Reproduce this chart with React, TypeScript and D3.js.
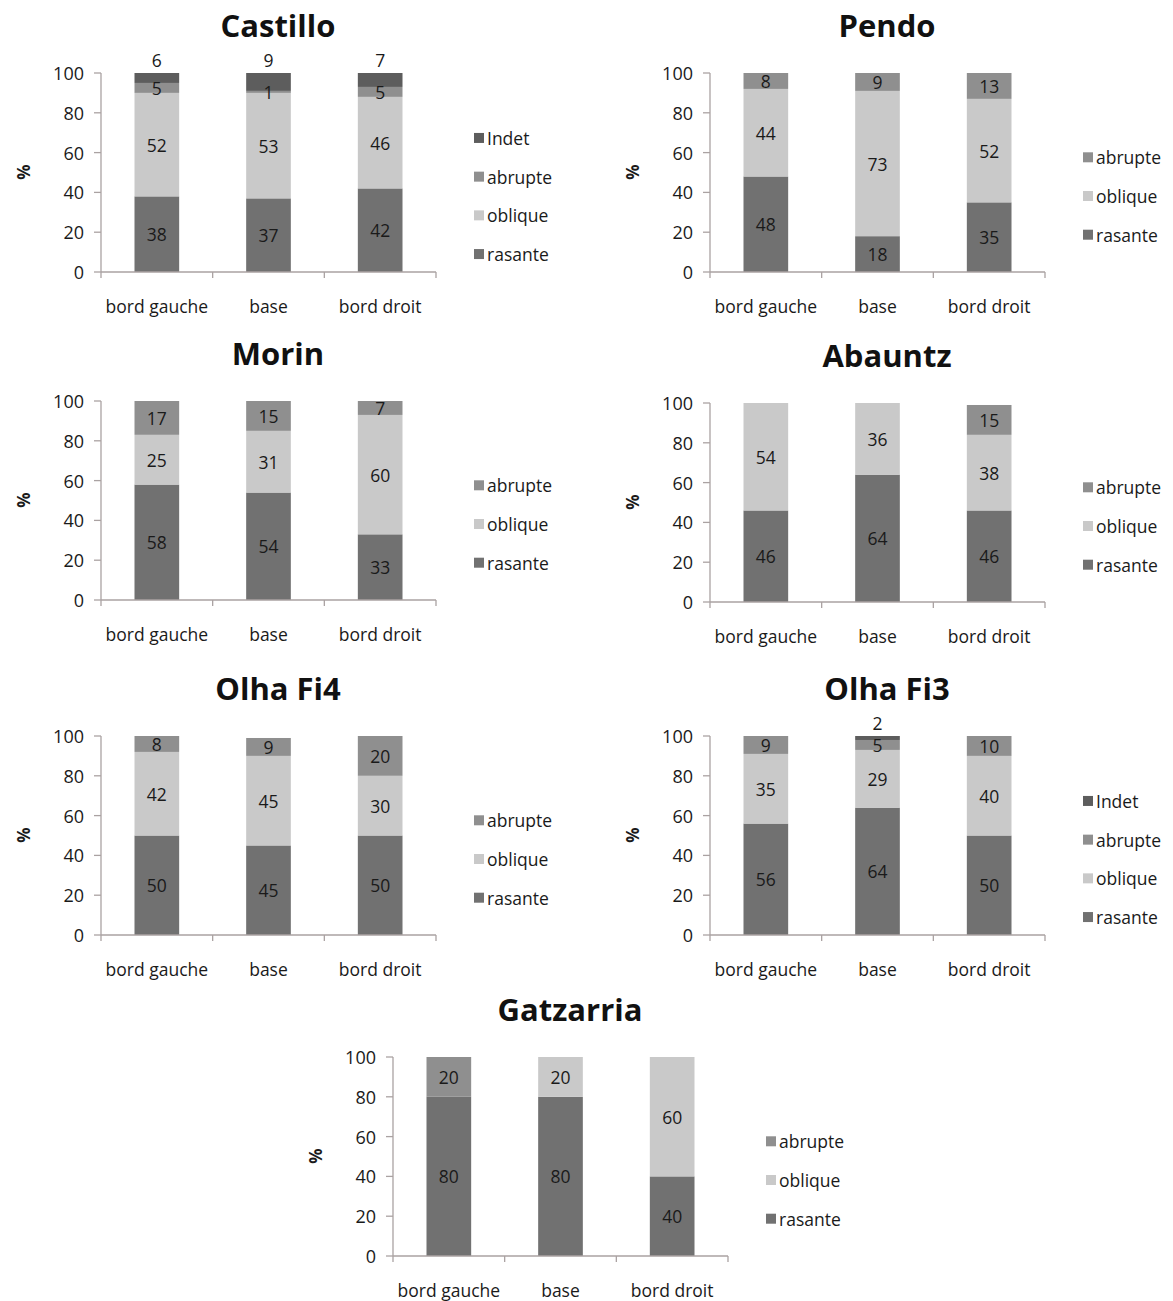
import React from "react";
import * as d3 from "d3";

const categories = ["bord gauche", "base", "bord droit"];
const seriesNames = ["rasante", "oblique", "abrupte", "Indet"];
const seriesColors = ["#717171", "#c9c9c9", "#8f8f8f", "#5d5d5d"];
const yTicks = [0, 20, 40, 60, 80, 100];

// values per category: [rasante, oblique, abrupte, Indet]
const castillo = [[38, 52, 5, 6], [37, 53, 1, 9], [42, 46, 5, 7]];
const pendo = [[48, 44, 8, 0], [18, 73, 9, 0], [35, 52, 13, 0]];
const morin = [[58, 25, 17, 0], [54, 31, 15, 0], [33, 60, 7, 0]];
const abauntz = [[46, 54, 0, 0], [64, 36, 0, 0], [46, 38, 15, 0]];
const olhaFi4 = [[50, 42, 8, 0], [45, 45, 9, 0], [50, 30, 20, 0]];
const olhaFi3 = [[56, 35, 9, 0], [64, 29, 5, 2], [50, 40, 10, 0]];
const gatzarria = [[80, 0, 20, 0], [80, 20, 0, 0], [40, 60, 0, 0]];

const panels = [
  { title: "Castillo", data: castillo, ax: 101, top: 73, indet: true },
  { title: "Pendo", data: pendo, ax: 710, top: 73, indet: false },
  { title: "Morin", data: morin, ax: 101, top: 401, indet: false },
  { title: "Abauntz", data: abauntz, ax: 710, top: 403, indet: false },
  { title: "Olha Fi4", data: olhaFi4, ax: 101, top: 736, indet: false },
  { title: "Olha Fi3", data: olhaFi3, ax: 710, top: 736, indet: true },
  { title: "Gatzarria", data: gatzarria, ax: 393, top: 1057, indet: false },
];

const FONT = "'Open Sans', 'Liberation Sans', sans-serif";
const AXIS = "#aaa2a2";
const TXT = "#1a1a1a";
const FS = 17.5;

function Panel({ p }: { p: any }) {
  const plotW = 335;
  const plotH = 199;
  const x = d3.scaleBand().domain(categories).range([p.ax, p.ax + plotW]).paddingInner(0.6).paddingOuter(0.3);
  const y = d3.scaleLinear().domain([0, 100]).range([p.top + plotH, p.top]);
  const step = x.step();
  const nSeries = p.indet ? 4 : 3;
  const legendItems = d3.range(nSeries).reverse();
  const legendCenter = p.top + 123;
  const legendGap = 38.7;
  const legendStart = legendCenter - ((nSeries - 1) * legendGap) / 2;
  const boundaries = d3.range(categories.length + 1).map((i) => p.ax + i * step);

  return (
    <g>
      <text x={p.ax + 177} y={p.top - 36} textAnchor="middle" fontFamily={FONT} fontWeight="bold" fontSize={31} fill="#111">
        {p.title}
      </text>
      <text transform={`translate(${p.ax - 78},${p.top + 99}) rotate(-90)`} textAnchor="middle" dominantBaseline="central" fontFamily={FONT} fontSize={17} fontWeight="bold" fill={TXT}>
        %
      </text>
      {categories.map((c, ci) => {
        const vals = p.data[ci];
        let cum = 0;
        const segs = vals.map((v: number, si: number) => {
          const y0 = cum;
          cum += v;
          return { v, si, y0, y1: Math.min(cum, 100) };
        });
        const bx = x(c)!;
        const bw = x.bandwidth();
        return (
          <g key={c}>
            {segs.filter((s: any) => s.v > 0).map((s: any) => (
              <rect key={s.si} x={bx} width={bw} y={y(s.y1)} height={Math.max(0, y(s.y0) - y(s.y1))} fill={seriesColors[s.si]} />
            ))}
            {segs.filter((s: any) => s.v > 0).map((s: any) => {
              const ty = s.si === 3 ? y(s.y1) - 13 : (y(s.y0) + y(s.y1)) / 2;
              return (
                <text key={"t" + s.si} x={bx + bw / 2} y={ty} textAnchor="middle" dominantBaseline="central" fontFamily={FONT} fontSize={FS} fill={TXT}>
                  {s.v}
                </text>
              );
            })}
          </g>
        );
      })}
      <line x1={p.ax} x2={p.ax} y1={p.top} y2={p.top + plotH} stroke={AXIS} strokeWidth={1.3} />
      <line x1={p.ax} x2={p.ax + plotW} y1={p.top + plotH} y2={p.top + plotH} stroke={AXIS} strokeWidth={1.3} />
      {yTicks.map((t) => (
        <g key={t}>
          <line x1={p.ax - 7} x2={p.ax} y1={y(t)} y2={y(t)} stroke={AXIS} strokeWidth={1.3} />
          <text x={p.ax - 17} y={y(t)} textAnchor="end" dominantBaseline="central" fontFamily={FONT} fontSize={18} fill={TXT}>
            {t}
          </text>
        </g>
      ))}
      {boundaries.map((bx, i) => (
        <line key={i} x1={bx} x2={bx} y1={p.top + plotH} y2={p.top + plotH + 6} stroke={AXIS} strokeWidth={1.3} />
      ))}
      {categories.map((c) => (
        <text key={c} x={x(c)! + x.bandwidth() / 2} y={p.top + plotH + 34} textAnchor="middle" dominantBaseline="central" fontFamily={FONT} fontSize={FS} fill={TXT}>
          {c}
        </text>
      ))}
      {legendItems.map((si, i) => {
        const ly = legendStart + i * legendGap;
        return (
          <g key={si}>
            <rect x={p.ax + 373} y={ly - 5} width={10} height={10} fill={seriesColors[si]} />
            <text x={p.ax + 386} y={ly} dominantBaseline="central" fontFamily={FONT} fontSize={FS} fill={TXT}>
              {seriesNames[si]}
            </text>
          </g>
        );
      })}
    </g>
  );
}

export default function App() {
  return (
    <svg width={1173} height={1301} style={{ position: "absolute", left: 0, top: 0, background: "#fff" }}>
      <rect x={0} y={0} width={1173} height={1301} fill="#fff" />
      {panels.map((p) => (
        <Panel key={p.title} p={p} />
      ))}
    </svg>
  );
}
